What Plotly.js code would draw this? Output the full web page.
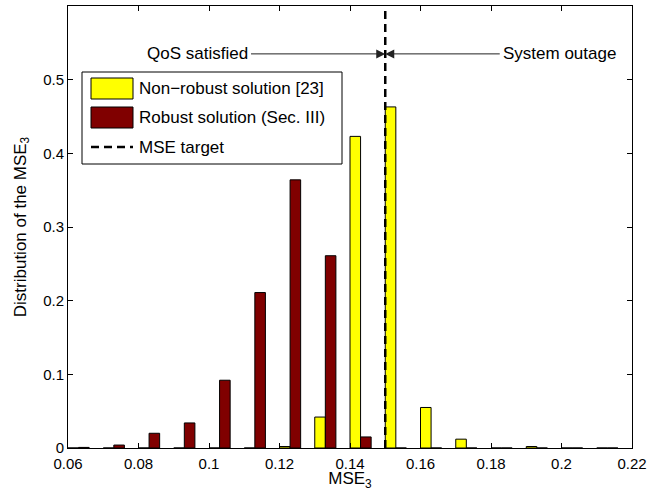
<!DOCTYPE html>
<html>
<head>
<meta charset="utf-8">
<script src="https://cdn.plot.ly/plotly-3.0.1.min.js"></script>
<style>html,body{margin:0;padding:0;background:#fff;}#chart{width:667px;height:491px;}</style>
</head>
<body>
<div id="chart"></div>
<script>
// ---- data ----
const binCenters = [0.063, 0.073, 0.083, 0.093, 0.103, 0.113, 0.123, 0.133,
                    0.143, 0.153, 0.163, 0.173, 0.183, 0.193, 0.203, 0.213];
const nonRobust  = [0, 0, 0, 0, 0, 0, 0.002, 0.042, 0.423, 0.463, 0.055, 0.012, 0, 0.002, 0, 0];
const robust     = [0.0008, 0.004, 0.02, 0.034, 0.092, 0.211, 0.364, 0.261, 0.015, 0, 0, 0, 0, 0, 0, 0];
const mseTarget  = 0.15;
const xTickVals  = [0.06, 0.08, 0.1, 0.12, 0.14, 0.16, 0.18, 0.2, 0.22];
const xTickText  = ['0.06', '0.08', '0.1', '0.12', '0.14', '0.16', '0.18', '0.2', '0.22'];
const yTickVals  = [0, 0.1, 0.2, 0.3, 0.4, 0.5];
const yTickText  = ['0', '0.1', '0.2', '0.3', '0.4', '0.5'];
const seriesNames = ['Non\u2212robust solution [23]', 'Robust solution (Sec. III)', 'MSE target'];
const arrowLabels = ['QoS satisfied', 'System outage'];
const arrowY = 0.535;
const arrowTextX = [0.0966, 0.1995];

// ---- layout geometry (pixels) ----
const W = 667, H = 491;
const M = {l: 68, r: 35, t: 6, b: 43};
const PW = W - M.l - M.r, PH = H - M.t - M.b;
const px = x => (x - M.l) / PW;          // pixel -> paper x
const py = y => (H - M.b - y) / PH;      // pixel -> paper y

const FONT = 'Arial, "Liberation Sans", Helvetica, sans-serif';
const YELLOW = '#ffff00', DARKRED = '#800000';

const traces = [
  {type: 'bar', x: binCenters, y: nonRobust, name: seriesNames[0],
   marker: {color: YELLOW, line: {color: '#000', width: 1}}},
  {type: 'bar', x: binCenters, y: robust, name: seriesNames[1],
   marker: {color: DARKRED, line: {color: '#000', width: 1}}},
  {type: 'scatter', mode: 'lines', x: [mseTarget, mseTarget], y: [0, 0.6], name: seriesNames[2],
   line: {color: '#000', width: 2.5, dash: '8px,5px'}}
];

// custom legend (MATLAB-style big swatches)
const shapes = [
  {type: 'rect', xref: 'paper', yref: 'paper', x0: px(82), x1: px(342), y0: py(164), y1: py(72),
   line: {color: '#000', width: 1}, fillcolor: '#fff', layer: 'above'},
  {type: 'rect', xref: 'paper', yref: 'paper', x0: px(91), x1: px(133), y0: py(99), y1: py(78),
   line: {color: '#000', width: 1}, fillcolor: YELLOW, layer: 'above'},
  {type: 'rect', xref: 'paper', yref: 'paper', x0: px(91), x1: px(133), y0: py(128), y1: py(107),
   line: {color: '#000', width: 1}, fillcolor: DARKRED, layer: 'above'},
  {type: 'line', xref: 'paper', yref: 'paper', x0: px(91), x1: px(133), y0: py(147), y1: py(147),
   line: {color: '#000', width: 2.5, dash: '8px,5px'}, layer: 'above'}
];

const legendY = [88.5, 117.5, 147];
const annotations = seriesNames.map((t, i) => ({
  xref: 'paper', yref: 'paper', x: px(137), y: py(legendY[i]), xanchor: 'left', yanchor: 'middle',
  text: t, showarrow: false, font: {family: FONT, size: 17, color: '#000'}
}));

arrowLabels.forEach((t, i) => {
  annotations.push({
    x: mseTarget, y: arrowY, xref: 'x', yref: 'y',
    ax: arrowTextX[i], ay: arrowY, axref: 'x', ayref: 'y',
    text: t, showarrow: true, arrowhead: 2, arrowsize: 1.8, arrowwidth: 1, arrowcolor: '#222',
    standoff: 0, borderpad: 3,
    font: {family: FONT, size: 17, color: '#000'}
  });
});

const axisCommon = {
  showline: true, linecolor: '#000', linewidth: 1, mirror: 'ticks',
  ticks: 'inside', ticklen: 5, tickcolor: '#000', showgrid: false, zeroline: false,
  tickfont: {family: FONT, size: 15, color: '#000'}
};

const layout = {
  width: W, height: H, margin: M,
  paper_bgcolor: '#fff', plot_bgcolor: '#fff',
  showlegend: false,
  barmode: 'group', bargap: 0.4, bargroupgap: 0,
  font: {family: FONT, size: 15, color: '#000'},
  xaxis: Object.assign({}, axisCommon, {
    range: [0.06, 0.22], tickvals: xTickVals, ticktext: xTickText, ticklabelstandoff: 2,
    title: {text: 'MSE<sub>3</sub>', font: {family: FONT, size: 17, color: '#000'}, standoff: 0}
  }),
  yaxis: Object.assign({}, axisCommon, {
    range: [0, 0.6], tickvals: yTickVals, ticktext: yTickText,
    title: {text: 'Distribution of the MSE<sub>3</sub>', font: {family: FONT, size: 17, color: '#000'}, standoff: 12}
  }),
  shapes: shapes,
  annotations: annotations
};

Plotly.newPlot('chart', traces, layout, {displayModeBar: false, staticPlot: true});
</script>
</body>
</html>
